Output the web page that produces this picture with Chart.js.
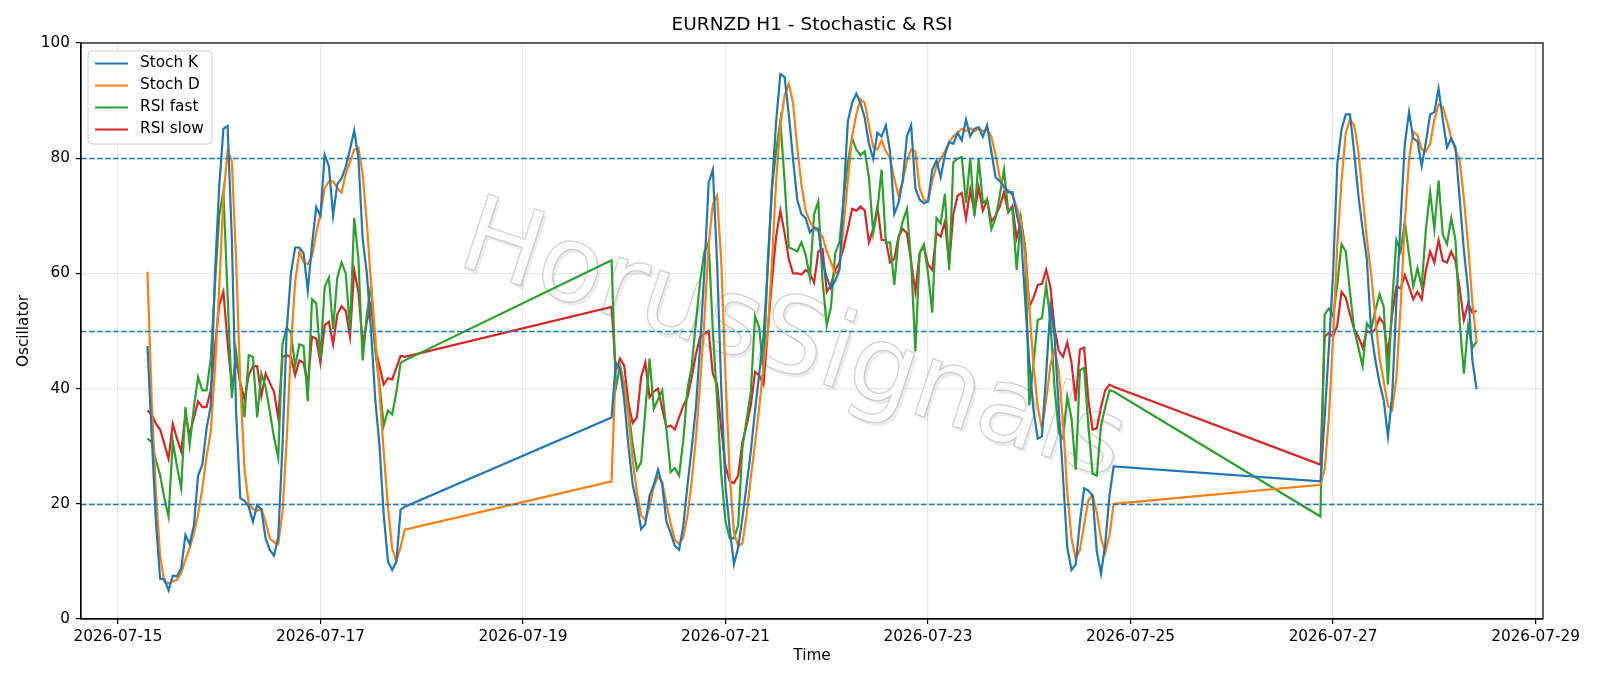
<!DOCTYPE html>
<html>
<head>
<meta charset="utf-8">
<title>EURNZD H1 - Stochastic &amp; RSI</title>
<script src="https://cdn.jsdelivr.net/npm/chart.js@4.4.1/dist/chart.umd.min.js"></script>
<style>
  html, body { margin: 0; padding: 0; background: #fff; }
  #wrap { width: 1600px; height: 686px; }
</style>
</head>
<body>
<div id="wrap"><canvas id="chart" width="1600" height="686"></canvas></div>
<script>
'use strict'

// hourly bars in three sessions; the weekend gaps are simply joined by a line
const sessionStarts = ['2026-07-15T07:00:00Z', '2026-07-19T21:00:00Z', '2026-07-26T21:00:00Z']
const sessionBars = [62, 120, 38]

const stochK = [
  // session 1
  47.4, 32, 17, 7, 6.9, 5, 7.5, 7.4, 8.8, 14.6,
  13, 16.2, 24.9, 26.8, 33, 37, 60, 75, 85.1, 85.6,
  66, 36, 21, 20.5, 19.5, 16.9, 19.8, 19, 14, 12,
  11, 14.3, 30, 50, 60, 64.5, 64.5, 63.5, 57, 65,
  71.5, 70, 80.6, 78.6, 70, 75.5, 76.5, 78.5, 81.5, 84.8,
  80, 66, 60, 50, 38, 30, 18, 10, 8.5, 10,
  19, 19.5,
  // session 2
  35, 44.5, 43.5, 38, 30, 23.3, 20, 15.6, 16.5, 21.4,
  23.3, 25.9, 23.3, 16.9, 14.9, 12.7, 12, 16.2, 23.3, 29.7,
  36.8, 47.7, 60.6, 75.7, 78, 62, 40, 23, 15.6, 9.5,
  12.4, 17.5, 23.3, 29.1, 36.2, 42.6, 49, 60.6, 74.8, 86.4,
  94.6, 94.1, 87.6, 79.9, 72.8, 70.3, 69.6, 67.1, 68, 67.7,
  61.9, 59.3, 57.4, 58.7, 60.6, 73.5, 86.4, 89.6, 91.2, 89.6,
  87, 82.5, 79.9, 84.4, 83.8, 85.7, 81.2, 70.3, 72.2, 76.1,
  83.8, 85.7, 74.8, 72.8, 72.2, 72.5, 78, 79.6, 76.7, 80.6,
  82.8, 82.5, 84.4, 83.1, 86.7, 83.8, 85.1, 85.4, 83.7, 85.7,
  81.2, 76.7, 76, 75.1, 74.1, 74.1, 70.3, 67.1, 55.5, 44.5,
  36.2, 31.3, 31.7, 42.6, 54.2, 49, 36.2, 24.6, 12.4, 8.5,
  9.5, 16.9, 22.7, 22.3, 21.4, 11.7, 7.9, 13, 21.4, 26.5,
  // session 3
  23.9, 35, 47, 60, 79, 85, 87.6, 87.6, 81, 73.5,
  67.7, 62.5, 50, 45, 41, 38, 31.7, 38.7, 55, 69,
  82.5, 88, 83.4, 83, 78.6, 82.8, 87.6, 88, 92.1, 86.7,
  81.9, 83.4, 81.9, 73, 64, 57, 45, 39.9,
]

const stochD = [
  60.3, 38, 22, 11, 6.5, 6.2, 6.5, 6.8, 8, 10.3,
  12.3, 14.8, 18.2, 22.6, 28.2, 32.5, 43.5, 57.3, 73.4, 81.2,
  79.5, 62.5, 41, 26, 20, 19.1, 18.8, 19.1, 16.9, 14,
  13.3, 13, 18.5, 31, 47, 58.5, 63.8, 62, 61.6, 63,
  67, 70.3, 74.8, 76, 76, 74.8, 74, 77.3, 79.3, 81.5,
  81.8, 77.3, 68.7, 58, 49, 39.5, 29, 19.5, 12.2, 10,
  12.5, 15.5,
  23.9, 44.5, 43.9, 40.5, 35, 27.5, 22, 18, 17.2, 19.5,
  23, 24.7, 23.8, 20, 16.6, 13.7, 13, 14.2, 18, 24,
  31.5, 41, 52, 65, 72, 73.5, 62, 42, 25, 15,
  12.7, 13.1, 18.1, 24.6, 30.4, 36.8, 43.9, 49.7, 61.9, 76.1,
  85.7, 90.9, 92.9, 89.6, 81.9, 75.4, 70.9, 69, 67.7, 67.4,
  66.4, 63.8, 61.9, 60, 60.6, 68.3, 76.1, 83.8, 87.6, 90.2,
  89.6, 85.7, 81.9, 81.5, 83.1, 81.2, 80, 76.5, 73.5, 76,
  79.5, 81.5, 81.2, 74.8, 72.8, 72.5, 76.1, 78.6, 79.9, 81.2,
  82.8, 83.8, 84.4, 85.1, 84.7, 85.2, 84.7, 85.1, 84.7, 85.1,
  83.8, 80.6, 76.7, 74.8, 74.5, 73.5, 71.6, 69, 63.2, 54.2,
  43.9, 36.8, 33, 38, 44, 47, 43, 34, 22, 14,
  10.5, 12, 16.4, 20.6, 21.5, 18.5, 14, 11.5, 14.5, 20,
  23.3, 26, 34.9, 49, 65, 76, 84.4, 86.7, 85.7, 81.2,
  73.5, 66, 60, 52.5, 45.3, 41.3, 37, 36.3, 41.8, 54.2,
  68.8, 79.8, 84.6, 84, 81.5, 81.2, 82.5, 86.7, 89.3, 88.9,
  86.4, 83.5, 81.5, 79.5, 73, 65, 55, 48.1,
]

const rsiFast = [
  31.3, 30.7, 27.5, 25, 21, 17.8, 30.8, 26.5, 22.7, 36.8,
  30.2, 36.8, 42, 39.7, 39.7, 45.2, 58, 70, 74.3, 56,
  38.4, 46.5, 40.7, 35, 45.8, 45.5, 35, 42.6, 40.3, 36,
  31.5, 28, 47.7, 50.6, 49.7, 43.9, 47.7, 47.4, 37.8, 55.5,
  54.8, 45.2, 57.7, 59.3, 50.3, 59.3, 61.9, 60, 50.3, 69.6,
  62.5, 44.9, 52.9, 58, 46.5, 40.7, 33.6, 36.2, 35.5, 39.4,
  44.5, 44.9,
  62.3, 40, 44, 40.7, 36, 30.4, 25.9, 27.2, 36.2, 45.2,
  36.5, 38.1, 39.7, 32.9, 25.5, 26.2, 24.9, 31, 40, 43.9,
  51.6, 58.7, 63.8, 65.4, 50, 38, 25, 16.9, 14, 14,
  16.2, 29.7, 34.6, 39.4, 52.6, 50.6, 42.6, 61.9, 74.8, 81.2,
  86.5, 76.1, 64.5, 64.2, 63.8, 65.4, 63.2, 59.3, 70.3, 72.5,
  58.7, 51, 54.2, 63.5, 65.4, 72.8, 79.3, 83.5, 81.5, 80.5,
  81.2, 76.7, 67, 71, 78, 65.4, 65.4, 58, 66, 69,
  71.2, 62, 46.5, 63.5, 65, 60, 53.2, 69.6, 68.7, 73.8,
  60.6, 79.3, 79.9, 80.2, 72.2, 80, 70, 79.9, 72.2, 72.8,
  67.7, 69.6, 73.5, 78, 70.9, 71.2, 60.6, 69.6, 64.5, 37.1,
  44.5, 51.9, 52.2, 58, 51.6, 40, 32.3, 31.3, 38.6, 34.9,
  25.9, 43.2, 43.6, 33.6, 25.2, 24.9, 33.6, 36.8, 39.7, 39.5,
  17.8, 52.9, 53.9, 52.6, 58, 65.1, 63.8, 56.8, 50.3, 47.1,
  43.9, 51.3, 50.3, 53.5, 56.4, 54.2, 40.7, 55, 65.8, 63.8,
  69, 63.2, 57.7, 60.9, 57.7, 67.7, 74.1, 67.7, 76.1, 66.7,
  65.1, 69.6, 65.8, 51.6, 42.6, 51, 47.1, 48.1,
]

const rsiSlow = [
  36.2, 35.5, 33.9, 32.9, 30.4, 27.8, 33.9, 31.3, 29.1, 35.5,
  32, 34.9, 37.8, 36.8, 36.8, 39.7, 47.1, 54.5, 56.8, 48,
  40.3, 44.9, 41, 38.1, 42.3, 43.9, 43.9, 38.7, 42.6, 41,
  39.4, 34.9, 45.5, 45.8, 45.5, 42.3, 44.9, 44.5, 40.7, 49,
  48.7, 44.5, 51, 51.6, 47.7, 52.9, 54.3, 53.5, 49, 60.6,
  56.8, 47.7, 51.6, 54.8, 47.1, 43.9, 40.7, 41.8, 41.6, 43.6,
  45.7, 45.5,
  54.2, 43, 45.2, 44, 37.5, 34, 35, 42, 44.5, 38.5,
  39.5, 40, 36.5, 33.3, 33.6, 32.9, 35, 37, 38.5, 42,
  46, 49, 49.5, 50, 42.6, 40.7, 33, 26.5, 23.9, 23.6,
  24.9, 30.7, 33.6, 37.1, 42.9, 42.3, 40.7, 49.7, 58.7, 66.4,
  70.9, 67, 62.5, 60, 60, 59.8, 60.6, 60, 58.4, 63.8,
  64.2, 56.8, 58, 60.6, 61.9, 64.5, 67.7, 71.2, 70.9, 71.6,
  70.9, 65.4, 67.7, 71.6, 65.8, 65.8, 61.9, 62.5, 66.4, 67.7,
  67, 62, 56.8, 63.5, 64.8, 61.5, 60.6, 67, 66.4, 69,
  61.6, 70.3, 73.5, 74, 69.5, 74.5, 70.5, 74.9, 70.9, 72.8,
  69, 70, 71.6, 74.1, 70.6, 71.7, 66.1, 69, 64.5, 54.2,
  55.8, 58, 58.2, 60.6, 57.7, 50.3, 46.5, 45.5, 48, 44.5,
  37.8, 46.8, 47.1, 38.1, 32.9, 33.1, 36.8, 39.7, 40.7, 40.3,
  26.8, 49, 49.7, 49, 51, 56.8, 55.8, 52.9, 50.3, 49,
  47.1, 50, 49.7, 50.3, 52.3, 51.3, 45.8, 52.9, 57.7, 57.4,
  59.7, 57.7, 55.5, 56.8, 55.5, 60.6, 63.8, 61.9, 65.8, 62.2,
  61.9, 63.8, 62.2, 57.4, 51.9, 54.8, 53.2, 53.5,
]

const seriesLabels = ['Stoch K', 'Stoch D', 'RSI fast', 'RSI slow']
const seriesColors = ['#1f77b4', '#ff7f0e', '#2ca02c', '#d62728']
const levels = [20, 50, 80]
const tickDates = ['2026-07-15', '2026-07-17', '2026-07-19', '2026-07-21', '2026-07-23', '2026-07-25', '2026-07-27', '2026-07-29']

const FONT = "'DejaVu Sans', sans-serif"
const HOUR = 3600000
const origin = Date.parse('2026-07-15T00:00:00Z')

// x is measured in hours from the first tick date
function barHours() {
  const out = []
  sessionStarts.forEach((s, k) => {
    const t0 = (Date.parse(s) - origin) / HOUR
    for (let i = 0; i < sessionBars[k]; i++) out.push(t0 + i)
  })
  return out
}

const hours = barHours()
const tickValues = tickDates.map((d) => (Date.parse(d + 'T00:00:00Z') - origin) / HOUR)
const span = hours[hours.length - 1] - hours[0]
const xMin = hours[0] - span * 0.05
const xMax = hours[hours.length - 1] + span * 0.05

const seriesValues = [stochK, stochD, rsiFast, rsiSlow]

const titlePlugin = {
  id: 'plotTitle',
  afterDraw(chart) {
    const { ctx, chartArea } = chart
    ctx.save()
    ctx.font = `18.5px ${FONT}`
    ctx.fillStyle = '#000'
    ctx.textAlign = 'center'
    ctx.textBaseline = 'middle'
    ctx.fillText('EURNZD H1 - Stochastic & RSI', (chartArea.left + chartArea.right) / 2, 25)
    ctx.restore()
  },
}

const watermarkPlugin = {
  id: 'watermark',
  beforeDatasetsDraw(chart) {
    const { ctx, chartArea } = chart
    const text = 'HorusSignals'
    ctx.save()
    ctx.beginPath()
    ctx.rect(chartArea.left, chartArea.top, chartArea.right - chartArea.left, chartArea.bottom - chartArea.top)
    ctx.clip()
    ctx.translate(792, 345)
    ctx.rotate((18 * Math.PI) / 180)
    ctx.font = `106px ${FONT}`
    ctx.textAlign = 'center'
    ctx.textBaseline = 'middle'
    // soft drop shadow
    ctx.fillStyle = 'rgba(110,110,110,0.13)'
    ctx.fillText(text, 3.5, 2.5)
    // white body with grey outline
    ctx.fillStyle = 'rgba(255,255,255,0.85)'
    ctx.fillText(text, 0, 0)
    ctx.lineWidth = 1.3
    ctx.strokeStyle = 'rgba(150,150,150,0.45)'
    ctx.strokeText(text, 0, 0)
    ctx.restore()
  },
}

const levelsPlugin = {
  id: 'levels',
  afterDatasetsDraw(chart) {
    const { ctx, chartArea, scales } = chart
    ctx.save()
    ctx.strokeStyle = '#1f77b4'
    ctx.lineWidth = 1.5
    ctx.setLineDash([5.6, 2.4])
    levels.forEach((lv) => {
      const y = Math.round(scales.y.getPixelForValue(lv)) + 0.5
      ctx.beginPath()
      ctx.moveTo(chartArea.left, y)
      ctx.lineTo(chartArea.right, y)
      ctx.stroke()
    })
    ctx.restore()
  },
}

const framePlugin = {
  id: 'frame',
  afterDraw(chart) {
    const { ctx, chartArea } = chart
    ctx.save()
    ctx.strokeStyle = '#000'
    ctx.lineWidth = 1.2
    ctx.strokeRect(chartArea.left, chartArea.top, chartArea.right - chartArea.left, chartArea.bottom - chartArea.top)

    // legend box, upper left inside the axes
    const x = chartArea.left + 7
    const y = chartArea.top + 8
    const w = 124
    const h = 93
    ctx.beginPath()
    ctx.roundRect(x, y, w, h, 4)
    ctx.fillStyle = 'rgba(255,255,255,0.8)'
    ctx.fill()
    ctx.strokeStyle = '#cccccc'
    ctx.lineWidth = 1
    ctx.stroke()
    ctx.font = `15.3px ${FONT}`
    ctx.textBaseline = 'middle'
    seriesLabels.forEach((lbl, i) => {
      const ry = y + 12.5 + i * 22
      ctx.strokeStyle = seriesColors[i]
      ctx.lineWidth = 2.2
      ctx.beginPath()
      ctx.moveTo(x + 7, ry)
      ctx.lineTo(x + 40, ry)
      ctx.stroke()
      ctx.fillStyle = '#000'
      ctx.fillText(lbl, x + 52, ry)
    })
    ctx.restore()
  },
}

const gridOpts = {
  color: 'rgba(176,176,176,0.3)',
  lineWidth: 1.2,
  tickColor: '#000',
  tickLength: 5,
  tickWidth: 1.2,
}

new Chart(document.getElementById('chart'), {
  type: 'line',
  data: {
    datasets: seriesLabels.map((label, i) => ({
      label,
      data: seriesValues[i].map((v, j) => ({ x: hours[j], y: v })),
      borderColor: seriesColors[i],
      backgroundColor: seriesColors[i],
      borderWidth: 2.2,
      pointRadius: 0,
      tension: 0,
      fill: false,
    })),
  },
  options: {
    responsive: false,
    devicePixelRatio: 1,
    animation: false,
    layout: { padding: { left: 0, right: 57, top: 43, bottom: 0 } },
    plugins: {
      legend: { display: false },
      title: { display: false },
      tooltip: { enabled: false },
    },
    scales: {
      x: {
        type: 'linear',
        min: xMin,
        max: xMax,
        afterBuildTicks(scale) {
          scale.ticks = tickValues.map((v) => ({ value: v }))
        },
        afterFit(scale) {
          scale.height = 67
        },
        ticks: {
          autoSkip: false,
          maxRotation: 0,
          padding: 4,
          color: '#000',
          font: { family: FONT, size: 15.3 },
          callback(_v, i) {
            return tickDates[i]
          },
        },
        grid: gridOpts,
        border: { color: '#000', width: 1.2 },
        title: {
          display: true,
          text: 'Time',
          color: '#000',
          font: { family: FONT, size: 15.3 },
          padding: { top: 0, bottom: 21 },
        },
      },
      y: {
        min: 0,
        max: 100,
        afterFit(scale) {
          scale.width = 81
        },
        ticks: {
          stepSize: 20,
          padding: 6,
          color: '#000',
          font: { family: FONT, size: 15.3 },
        },
        grid: gridOpts,
        border: { color: '#000', width: 1.2 },
        title: {
          display: true,
          text: 'Oscillator',
          color: '#000',
          font: { family: FONT, size: 15.3 },
          padding: { top: 15, bottom: 0 },
        },
      },
    },
  },
  plugins: [watermarkPlugin, levelsPlugin, framePlugin, titlePlugin],
})
</script>
</body>
</html>
